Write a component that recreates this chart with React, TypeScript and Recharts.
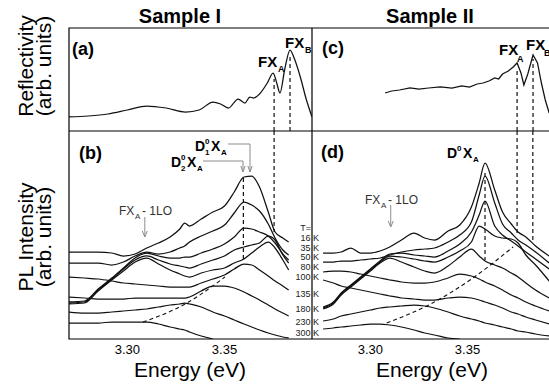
import React from 'react';
import { LineChart, Line, XAxis, YAxis, ReferenceLine, ReferenceArea } from 'recharts';

// shared energy window of all four panels (eV)
const E_MIN = 3.27;
const E_MAX = 3.395;
const X_TICKS = [3.3, 3.35];

// (a) reflectivity, sample I (arb. units)
const reflEnergyI = [3.27, 3.28, 3.29, 3.3, 3.31, 3.32, 3.33, 3.337, 3.344, 3.348, 3.352, 3.357, 3.3605, 3.363, 3.365, 3.368, 3.372, 3.375, 3.377, 3.3785, 3.381, 3.3837, 3.386, 3.389, 3.392, 3.395];
const reflI = [14, 15, 17, 21, 25, 23, 19, 21, 29, 27, 23, 32, 28, 34, 33, 37, 48, 58, 47, 38, 62, 81, 72, 54, 32, 14];

// (c) reflectivity, sample II
const reflEnergyII = [3.3076, 3.311, 3.315, 3.3204, 3.325, 3.33, 3.336, 3.342, 3.347, 3.351, 3.355, 3.358, 3.361, 3.364, 3.366, 3.368, 3.371, 3.3735, 3.3755, 3.3775, 3.379, 3.381, 3.3837, 3.386, 3.388, 3.39, 3.392];
const reflII = [38, 40, 41, 43, 42, 43, 44, 43, 45, 44, 47, 48, 50, 53, 52, 57, 60, 64, 68, 58, 46, 57, 76, 68, 48, 31, 18];

// (b) PL, sample I, one array per temperature
const plEnergyI = [3.27, 3.278, 3.285, 3.292, 3.298, 3.304, 3.31, 3.316, 3.322, 3.327, 3.3295, 3.332, 3.338, 3.344, 3.35, 3.355, 3.36, 3.364, 3.368, 3.3725, 3.376, 3.38, 3.383];
const plI16 = [87, 87, 87, 86, 83, 85, 91, 96, 102, 110, 116, 113, 120, 127, 133, 147, 162, 163, 152, 127, 107, 101, 97];
const plI35 = [76, 76, 76, 74, 77, 83, 87, 85, 87, 91, 93, 97, 103, 108, 114, 126, 137, 134, 128, 115, 101, 89, 84];
const plI50 = [37, 38, 50, 61, 71, 81, 86, 83, 81, 81, 82, 82, 86, 90, 95, 102, 111, 110, 107, 103, 96, 85, 79];
const plI80 = [36, 37, 49, 60, 70, 79, 83, 79, 75, 73, 72, 71, 75, 79, 83, 89, 92, 94, 96, 103, 99, 84, 76];
const plI100 = [35, 36, 48, 59, 68, 77, 81, 75, 69, 65, 63, 62, 66, 69, 71, 76, 80, 86, 92, 97, 91, 79, 69];
const plI135 = [62, 61, 60, 58, 56, 55, 54, 53, 52, 52, 52, 52, 56, 60, 64, 70, 75, 74, 69, 63, 58, 53, 49];
const plI180 = [42, 41, 40, 40, 40, 41, 41, 41, 41, 41, 41, 42, 48, 53, 53, 51, 47, 43, 39, 34, 30, 26, 23];
const plI230 = [27, 26, 26, 27, 28, 29, 30, 32, 34, 35, 36, 35, 32, 27, 23, 19, 15, 12, 9, 6, 4, 2, 1];
const plI300 = [16, 16, 16, 17, 17, 17, 17, 15, 12, 10, 9, 7, 3, 0, null, null, null, null, null, null, null, null, null];
// FX peak track (dashed)
const trackEnergyI = [3.308, 3.3307, 3.3425, 3.3502];
const trackI = [17, 36, 51, 62];

// (d) PL, sample II
const plEnergyII = [3.2757, 3.281, 3.285, 3.29, 3.295, 3.3, 3.305, 3.31, 3.316, 3.3225, 3.328, 3.333, 3.34, 3.346, 3.352, 3.356, 3.359, 3.364, 3.368, 3.3725, 3.376, 3.38, 3.385, 3.392];
const plII16 = [86, 86, 87, 91, 86, 86, 88, 92, 99, 106, 101, 99, 108, 114, 132, 156, 176, 149, 127, 115, 107, 102, 93, 83];
const plII35 = [77, 77, 78, 78, 79, 80, 81, 84, 87, 89, 90, 91, 97, 104, 117, 144, 163, 136, 115, 106, 99, 94, 87, 76];
const plII50 = [32, 37, 46, 54, 62, 70, 78, 85, 86, 84, 83, 82, 88, 95, 107, 124, 138, 113, 104, 98, 93, 87, 80, 70];
const plII80 = [31, 36, 45, 53, 61, 69, 77, 83, 82, 80, 78, 77, 82, 88, 97, 113, 110, 103, 101, 100, 96, 84, 74, 58];
const plII100 = [30, 35, 44, 52, 60, 68, 76, 81, 77, 72, 68, 66, 73, 82, 90, 83, 78, 74, 71, 66, 62, 56, 49, 41];
const plII135 = [67, 68, 68, 67, 65, 63, 61, 59, 57, 56, 56, 57, 61, 65, 63, 60, 57, 53, 49, 44, 41, 37, 33, 28];
const plII180 = [59, 56, 53, 51, 49, 47, 45, 43, 41, 40, 39, 39, 41, 42, 41, 39, 37, 34, 31, 27, 25, 22, 19, 15];
const plII230 = [18, 20, 23, 25, 27, 29, 31, 32, 33, 34, 33, 31, 27, 23, 20, 18, 16, 14, 12, 10, 8, 7, 5, 3];
const plII300 = [10, 11, 12, 13, 14, 15, 15, 14, 12, 9, 6, 4, 1, 0, null, null, null, null, null, null, null, null, null, null];
const trackEnergyII = [3.3084, 3.332, 3.3513, 3.3734];
const trackII = [16, 36, 59, 92];

const temps = ['16 K', '35 K', '50 K', '80 K', '100 K', '135 K', '180 K', '230 K', '300 K'];

type Pt = { e: number; v: number | null };
const toPts = (es: number[], vs: (number | null)[]): Pt[] => es.map((e, i) => ({ e, v: vs[i] }));

const plCurvesI = [plI16, plI35, plI50, plI80, plI100, plI135, plI180, plI230, plI300].map((s) => toPts(plEnergyI, s));
const plCurvesII = [plII16, plII35, plII50, plII80, plII100, plII135, plII180, plII230, plII300].map((s) => toPts(plEnergyII, s));

// log-style minor ticks on the PL axes (decoration only)
const logTicks = (bases: number[], decade: number, max: number) =>
  bases.flatMap((b) => [1, 2, 3, 4, 5, 6, 7, 8, 9].map((k) => b + decade * Math.log10(k))).filter((v) => v > 2 && v < max - 2);

type Seg = { x1: number; y1: number; x2: number; y2: number; gray?: boolean };

// little open arrow pointing down at (x, yTo)
const arrow = (x: number, yFrom: number, yTo: number, dx = 0.0013, h = 6): Seg[] => [
  { x1: x, y1: yFrom, x2: x, y2: yTo, gray: true },
  { x1: x - dx, y1: yTo + h, x2: x, y2: yTo, gray: true },
  { x1: x + dx, y1: yTo + h, x2: x, y2: yTo, gray: true },
];

interface PanelProps {
  left: number;
  top: number;
  width: number;
  height: number;
  margin: { top: number; right: number; bottom: number; left: number };
  yMax: number;
  curves: Pt[][];
  dashed?: Pt[][];
  segs: Seg[];
  curveType?: 'monotone' | 'linear';
  xLabels?: boolean;
  topTicks?: number[];
  leftTicks?: number[];
  rightTicks?: number[];
}

const Panel = (p: PanelProps) => (
  <div style={{ position: 'absolute', left: p.left, top: p.top }}>
    <LineChart width={p.width} height={p.height} margin={p.margin}>
      <XAxis
        dataKey="e"
        type="number"
        domain={[E_MIN, E_MAX]}
        allowDataOverflow
        ticks={X_TICKS}
        interval={0}
        tickFormatter={(v: number) => v.toFixed(2)}
        hide={!p.xLabels}
        height={24}
        tickLine={false}
        axisLine={false}
        tickSize={4}
        tickMargin={2}
        tick={{ fontSize: 13, fill: '#000' }}
      />
      {p.topTicks && (
        <XAxis xAxisId="top" orientation="top" dataKey="e" type="number" domain={[E_MIN, E_MAX]} allowDataOverflow
          ticks={p.topTicks} interval={0} mirror height={0} tick={false} tickSize={4} axisLine={false} tickLine={{ stroke: '#000' }} />
      )}
      <YAxis type="number" domain={[0, p.yMax]} allowDataOverflow hide />
      {p.leftTicks && (
        <YAxis yAxisId="l" orientation="left" type="number" domain={[0, p.yMax]} allowDataOverflow ticks={p.leftTicks}
          interval={0} mirror width={0} tick={false} tickSize={4} axisLine={false} tickLine={{ stroke: '#000' }} />
      )}
      {p.rightTicks && (
        <YAxis yAxisId="r" orientation="right" type="number" domain={[0, p.yMax]} allowDataOverflow ticks={p.rightTicks}
          interval={0} mirror width={0} tick={false} tickSize={5} axisLine={false} tickLine={{ stroke: '#000' }} />
      )}
      <ReferenceArea x1={E_MIN} x2={E_MAX} y1={0} y2={p.yMax} fill="none" fillOpacity={0} stroke="#000" strokeWidth={1.2} ifOverflow="visible" />
      {p.curves.map((d, i) => (
        <Line key={'c' + i} data={d} dataKey="v" type={p.curveType ?? 'monotone'} stroke="#111" strokeWidth={1.25}
          dot={false} activeDot={false} isAnimationActive={false} />
      ))}
      {(p.dashed ?? []).map((d, i) => (
        <Line key={'d' + i} data={d} dataKey="v" type="monotone" stroke="#111" strokeWidth={1.1} strokeDasharray="4 3"
          dot={false} activeDot={false} isAnimationActive={false} />
      ))}
      {p.segs.map((s, i) => (
        <ReferenceLine key={'s' + i} segment={[{ x: s.x1, y: s.y1 }, { x: s.x2, y: s.y2 }]}
          stroke={s.gray ? '#8c8c8c' : '#111'} strokeWidth={s.gray ? 1 : 1.2} strokeDasharray={s.gray ? undefined : '4 3'} ifOverflow="visible" />
      ))}
    </LineChart>
  </div>
);

const topTicks = [3.275, 3.3, 3.325, 3.35, 3.375];

const segsA: Seg[] = [
  { x1: 3.3755, y1: 0, x2: 3.3755, y2: 52 },
  { x1: 3.3837, y1: 0, x2: 3.3837, y2: 74 },
];
const segsC: Seg[] = [
  { x1: 3.3755, y1: 0, x2: 3.3755, y2: 63 },
  { x1: 3.3837, y1: 0, x2: 3.3837, y2: 72 },
];
const segsB: Seg[] = [
  { x1: 3.3755, y1: 208, x2: 3.3755, y2: 107 },
  { x1: 3.3597, y1: 161, x2: 3.3597, y2: 79 },
  ...arrow(3.309, 122, 102),
  { x1: 3.3518, y1: 195, x2: 3.3631, y2: 195, gray: true },
  ...arrow(3.3631, 195, 167, 0.0011),
  { x1: 3.3389, y1: 178, x2: 3.3595, y2: 178, gray: true },
  ...arrow(3.3595, 178, 167, 0.0011),
];
const segsD: Seg[] = [
  { x1: 3.3755, y1: 208, x2: 3.3755, y2: 106 },
  { x1: 3.3836, y1: 208, x2: 3.3836, y2: 97 },
  { x1: 3.359, y1: 166, x2: 3.359, y2: 79 },
  ...arrow(3.3105, 134, 112),
];

const tempY = [241, 250.5, 260, 270, 280, 297, 312, 325, 336];

const App = () => (
  <div
    style={{
      position: 'fixed', left: 0, top: 0, width: 549, height: 388, overflow: 'hidden', background: '#fff',
      fontFamily: '"Liberation Sans", Arial, Helvetica, sans-serif', color: '#000',
    }}
  >
    <Panel left={0} top={0} width={312} height={131} margin={{ top: 28, right: 0, bottom: 0, left: 69 }} yMax={103}
      curves={[toPts(reflEnergyI, reflI)]} segs={segsA} topTicks={topTicks} rightTicks={[17, 34, 52, 69, 86]} />
    <Panel left={312} top={0} width={243} height={131} margin={{ top: 28, right: 0, bottom: 0, left: 0 }} yMax={103}
      curves={[toPts(reflEnergyII, reflII)]} curveType="linear" segs={segsC} topTicks={topTicks} leftTicks={[34, 69]} />
    <Panel left={0} top={131} width={312} height={258} margin={{ top: 0, right: 0, bottom: 26, left: 69 }} yMax={208}
      curves={plCurvesI} dashed={[toPts(trackEnergyI, trackI)]} segs={segsB} xLabels
      leftTicks={logTicks([-45, 55, 155], 100, 208)} />
    <Panel left={312} top={131} width={243} height={258} margin={{ top: 0, right: 0, bottom: 26, left: 0 }} yMax={208}
      curves={plCurvesII} dashed={[toPts(trackEnergyII, trackII)]} segs={segsD} xLabels
      leftTicks={logTicks([-35, 70, 175], 105, 208)} />

    <svg width={549} height={388} style={{ position: 'absolute', left: 0, top: 0, pointerEvents: 'none' }}>
      <text x={180} y={23} textAnchor="middle" fontSize={20} fontWeight="bold">Sample I</text>
      <text x={430} y={23} textAnchor="middle" fontSize={20} fontWeight="bold">Sample II</text>

      <text transform="translate(33,66) rotate(-90)" textAnchor="middle" fontSize={21}>Reflectivity</text>
      <text transform="translate(51,66) rotate(-90)" textAnchor="middle" fontSize={21}>(arb. units)</text>
      <text transform="translate(33,237) rotate(-90)" textAnchor="middle" fontSize={21}>PL Intensity</text>
      <text transform="translate(51,237) rotate(-90)" textAnchor="middle" fontSize={21}>(arb. units)</text>

      <text x={190} y={377} textAnchor="middle" fontSize={21}>Energy (eV)</text>
      <text x={432} y={377} textAnchor="middle" fontSize={21}>Energy (eV)</text>

      <text x={72} y={55} fontSize={18} fontWeight="bold">(a)</text>
      <text x={79} y={159} fontSize={18} fontWeight="bold">(b)</text>
      <text x={322} y={54} fontSize={18} fontWeight="bold">(c)</text>
      <text x={321} y={158} fontSize={18} fontWeight="bold">(d)</text>

      <g fontWeight="bold">
        <text x={258} y={67} fontSize={15}>FX</text>
        <text x={278} y={72} fontSize={9}>A</text>
        <text x={285} y={48} fontSize={15}>FX</text>
        <text x={305} y={53} fontSize={9}>B</text>
        <text x={499} y={55} fontSize={15}>FX</text>
        <text x={517} y={62} fontSize={9}>A</text>
        <text x={526} y={50} fontSize={15}>FX</text>
        <text x={544} y={56} fontSize={9}>B</text>

        <text x={195} y={151} fontSize={14}>D</text>
        <text x={205} y={144} fontSize={8}>0</text>
        <text x={205} y={155} fontSize={8}>1</text>
        <text x={211} y={151} fontSize={14}>X</text>
        <text x={221} y={155} fontSize={8}>A</text>

        <text x={171} y={167} fontSize={14}>D</text>
        <text x={181} y={160} fontSize={8}>0</text>
        <text x={181} y={171} fontSize={8}>2</text>
        <text x={187} y={167} fontSize={14}>X</text>
        <text x={197} y={171} fontSize={8}>A</text>

        <text x={447} y={158} fontSize={14}>D</text>
        <text x={457} y={151} fontSize={8}>0</text>
        <text x={463} y={158} fontSize={14}>X</text>
        <text x={473} y={162} fontSize={8}>A</text>
      </g>

      <g fill="#333">
        <text x={119} y={215} fontSize={12}>FX</text>
        <text x={135} y={219} fontSize={8}>A</text>
        <text x={142} y={215} fontSize={12}>- 1LO</text>
        <text x={365} y={204} fontSize={12}>FX</text>
        <text x={381} y={208} fontSize={8}>A</text>
        <text x={388} y={204} fontSize={12}>- 1LO</text>
      </g>

      <g fill="#222" fontSize={9} textAnchor="end">
        <text x={311} y={231}>T=</text>
        {temps.map((t, i) => (
          <text key={t} x={319} y={tempY[i]}>{t}</text>
        ))}
      </g>
    </svg>
  </div>
);

export default App;
